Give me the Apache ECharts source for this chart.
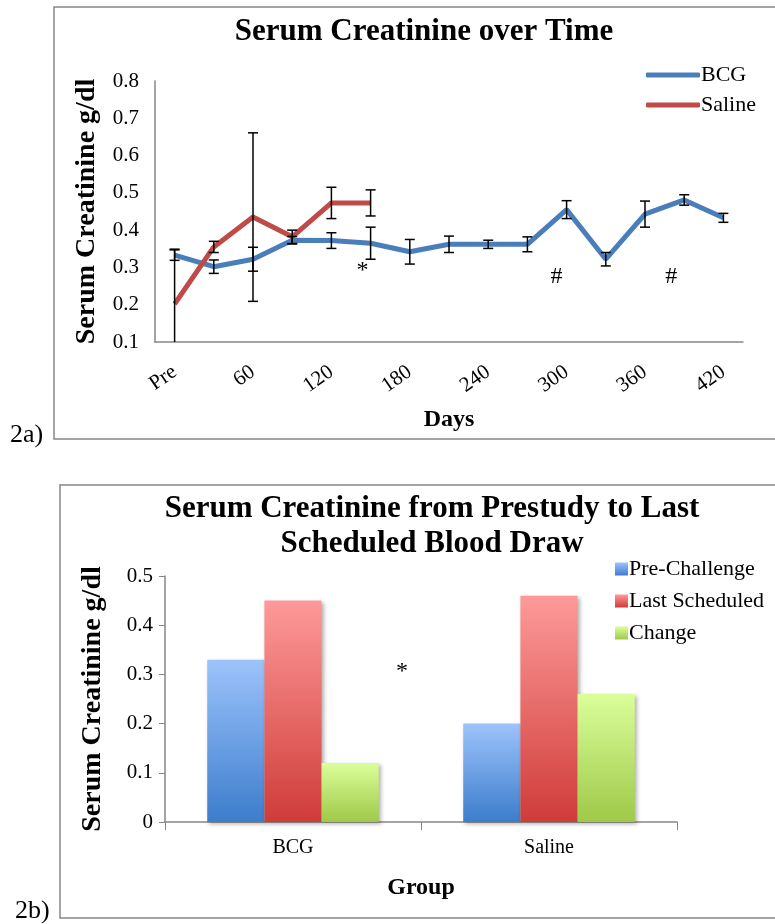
<!DOCTYPE html>
<html>
<head>
<meta charset="utf-8">
<title>Serum Creatinine</title>
<script src="https://cdn.jsdelivr.net/npm/echarts@6/dist/echarts.min.js"></script>
<style>
  html, body { margin: 0; padding: 0; background: #fff; }
  #main { width: 775px; height: 924px; }
</style>
</head>
<body>
<div id="main"></div>
<script>
  // 2a) line chart data (days after challenge)
  var days = ['Pre', '30', '60', '90', '120', '150', '180', '210', '240', '270', '300', '330', '360', '390', '420'];
  var bcgMean = [0.333, 0.302, 0.322, 0.373, 0.372, 0.365, 0.342, 0.362, 0.362, 0.362, 0.455, 0.322, 0.443, 0.481, 0.433];
  var bcgErr = [0.014, 0.018, 0.032, 0.010, 0.021, 0.043, 0.033, 0.022, 0.011, 0.020, 0.024, 0.018, 0.035, 0.014, 0.012];
  var salineMean = [0.202, 0.355, 0.435, 0.382, 0.473, 0.473];
  var salineErr = [0.147, 0.015, 0.226, 0.018, 0.042, 0.035];

  // 2b) bar chart data
  var groups = ['BCG', 'Saline'];
  var preChallenge = [0.33, 0.20];
  var lastScheduled = [0.45, 0.46];
  var change = [0.12, 0.26];

  var serif = 'Liberation Serif';
  var axisGrey = '#868686';

  function errData(mean, err) {
    var out = [];
    for (var i = 0; i < mean.length; i++) {
      out.push([i, mean[i] - err[i], mean[i] + err[i]]);
    }
    return out;
  }

  // draws a vertical error bar with caps
  function errorBar(params, api) {
    var i = api.value(0);
    var hi = api.coord([i, api.value(2)]);
    var lo = api.coord([i, api.value(1)]);
    var bottom = params.coordSys.y + params.coordSys.height;
    var loY = Math.min(lo[1], bottom);
    var cap = 5;
    var st = { stroke: '#000', lineWidth: 1.5 };
    var kids = [
      { type: 'line', shape: { x1: hi[0], y1: hi[1], x2: hi[0], y2: loY }, style: st },
      { type: 'line', shape: { x1: hi[0] - cap, y1: hi[1], x2: hi[0] + cap, y2: hi[1] }, style: st }
    ];
    if (lo[1] <= bottom) {
      kids.push({ type: 'line', shape: { x1: lo[0] - cap, y1: lo[1], x2: lo[0] + cap, y2: lo[1] }, style: st });
    }
    return { type: 'group', children: kids };
  }

  function grad(top, bottom) {
    return new echarts.graphic.LinearGradient(0, 0, 0, 1, [
      { offset: 0, color: top },
      { offset: 1, color: bottom }
    ]);
  }

  var barShadow = { shadowBlur: 4, shadowColor: 'rgba(0,0,0,0.3)', shadowOffsetX: 2, shadowOffsetY: 2 };

  var myChart = echarts.init(document.getElementById('main'));

  myChart.setOption({
    animation: false,
    textStyle: { fontFamily: serif, color: '#000' },
    title: [
      {
        text: 'Serum Creatinine over Time',
        left: 419, top: 11, textAlign: 'center',
        textStyle: { fontFamily: serif, fontWeight: 'bold', fontSize: 31, color: '#000' }
      },
      {
        text: 'Serum Creatinine from Prestudy to Last\nScheduled Blood Draw',
        left: 427, top: 486, textAlign: 'center',
        textStyle: { fontFamily: serif, fontWeight: 'bold', fontSize: 31, lineHeight: 35, color: '#000' }
      }
    ],
    legend: [
      {
        data: ['BCG', 'Saline'],
        orient: 'vertical',
        left: 641, top: 59,
        icon: 'roundRect',
        itemWidth: 54, itemHeight: 5,
        itemGap: 8,
        textStyle: { fontFamily: serif, fontSize: 22, color: '#000', padding: [0, 0, 0, -4] }
      },
      {
        data: ['Pre-Challenge', 'Last Scheduled', 'Change'],
        orient: 'vertical',
        left: 610, top: 553,
        icon: 'rect',
        itemWidth: 13, itemHeight: 13,
        itemGap: 10,
        textStyle: { fontFamily: serif, fontSize: 22, color: '#000', padding: [0, 0, 0, -4] }
      }
    ],
    grid: [
      { left: 155, top: 81, width: 588, height: 261 },
      { left: 165, top: 576, width: 512, height: 246 }
    ],
    xAxis: [
      {
        gridIndex: 0,
        type: 'category',
        data: days,
        name: 'Days',
        nameLocation: 'middle',
        nameGap: 66,
        nameTextStyle: { fontFamily: serif, fontWeight: 'bold', fontSize: 24, color: '#000' },
        axisLine: { lineStyle: { color: axisGrey, width: 1.5 } },
        axisTick: { show: false },
        axisLabel: { interval: 1, rotate: 35, margin: 28, fontFamily: serif, fontSize: 21, color: '#000' }
      },
      {
        gridIndex: 1,
        type: 'category',
        data: groups,
        name: 'Group',
        nameLocation: 'middle',
        nameGap: 54,
        nameTextStyle: { fontFamily: serif, fontWeight: 'bold', fontSize: 24, color: '#000' },
        axisLine: { lineStyle: { color: axisGrey, width: 1.5 } },
        axisTick: { show: true, length: 8, lineStyle: { color: axisGrey } },
        axisLabel: { margin: 16, fontFamily: serif, fontSize: 20, color: '#000' }
      }
    ],
    yAxis: [
      {
        gridIndex: 0,
        type: 'value',
        min: 0.1, max: 0.8, interval: 0.1,
        name: 'Serum Creatinine g/dl',
        nameLocation: 'middle',
        nameGap: 54,
        nameTextStyle: { fontFamily: serif, fontWeight: 'bold', fontSize: 28, color: '#000' },
        axisLine: { show: true, lineStyle: { color: axisGrey, width: 1.5 } },
        axisTick: { show: false },
        splitLine: { show: false },
        axisLabel: { margin: 16, fontFamily: serif, fontSize: 21, color: '#000', formatter: function (v) { return v.toFixed(1); } }
      },
      {
        gridIndex: 1,
        type: 'value',
        min: 0, max: 0.5, interval: 0.1,
        name: 'Serum Creatinine g/dl',
        nameLocation: 'middle',
        nameGap: 58,
        nameTextStyle: { fontFamily: serif, fontWeight: 'bold', fontSize: 28, color: '#000' },
        axisLine: { show: true, lineStyle: { color: axisGrey, width: 1.5 } },
        axisTick: { show: true, length: 6, lineStyle: { color: axisGrey } },
        splitLine: { show: false },
        axisLabel: { margin: 12, fontFamily: serif, fontSize: 21, color: '#000', formatter: function (v) { return v === 0 ? '0' : v.toFixed(1); } }
      }
    ],
    series: [
      {
        name: 'BCG',
        type: 'line',
        xAxisIndex: 0, yAxisIndex: 0,
        data: bcgMean,
        symbol: 'none',
        color: '#4a7ebb',
        lineStyle: { color: '#4a7ebb', width: 5 },
        markPoint: {
          symbol: 'circle', symbolSize: 0,
          label: { show: true, color: '#000', fontFamily: serif, fontSize: 24, formatter: function (p) { return p.name; } },
          data: [
            { name: '*', coord: ['150', 0.29], label: { offset: [-8, 0] } },
            { name: '#', coord: ['300', 0.275], label: { offset: [-10, 0] } },
            { name: '#', coord: ['390', 0.275], label: { offset: [-13, 0] } }
          ]
        }
      },
      {
        name: 'Saline',
        type: 'line',
        xAxisIndex: 0, yAxisIndex: 0,
        data: salineMean,
        symbol: 'none',
        color: '#be4b48',
        lineStyle: { color: '#be4b48', width: 5 }
      },
      {
        name: 'BCG err',
        type: 'custom',
        xAxisIndex: 0, yAxisIndex: 0,
        renderItem: errorBar,
        encode: { x: 0, y: [1, 2] },
        data: errData(bcgMean, bcgErr),
        z: 5
      },
      {
        name: 'Saline err',
        type: 'custom',
        xAxisIndex: 0, yAxisIndex: 0,
        renderItem: errorBar,
        encode: { x: 0, y: [1, 2] },
        data: errData(salineMean, salineErr),
        z: 5
      },
      {
        name: 'Pre-Challenge',
        type: 'bar',
        xAxisIndex: 1, yAxisIndex: 1,
        data: preChallenge,
        barGap: '0%',
        barCategoryGap: '33%',
        color: '#6a9de6',
        itemStyle: Object.assign({ color: grad('#9dc3fb', '#3c7dcc') }, barShadow)
      },
      {
        name: 'Last Scheduled',
        type: 'bar',
        xAxisIndex: 1, yAxisIndex: 1,
        data: lastScheduled,
        barGap: '0%',
        barCategoryGap: '33%',
        color: '#e06a68',
        itemStyle: Object.assign({ color: grad('#fd9a99', '#cf3c39') }, barShadow)
      },
      {
        name: 'Change',
        type: 'bar',
        xAxisIndex: 1, yAxisIndex: 1,
        data: change,
        barGap: '0%',
        barCategoryGap: '33%',
        color: '#bde372',
        itemStyle: Object.assign({ color: grad('#dbfe9a', '#9ec948') }, barShadow)
      }
    ],
    graphic: [
      // frames around each panel
      { type: 'rect', shape: { x: 54, y: 7, width: 760, height: 432 }, style: { fill: 'none', stroke: axisGrey, lineWidth: 1.5 }, z: -1 },
      { type: 'rect', shape: { x: 60, y: 485, width: 760, height: 433 }, style: { fill: 'none', stroke: axisGrey, lineWidth: 1.5 }, z: -1 },
      { type: 'text', left: 10, top: 422, style: { text: '2a)', font: '26px "Liberation Serif"', fill: '#000' } },
      { type: 'text', left: 15, top: 898, style: { text: '2b)', font: '26px "Liberation Serif"', fill: '#000' } },
      { type: 'text', left: 396, top: 660, style: { text: '*', font: '24px "Liberation Serif"', fill: '#000' } }
    ]
  });
</script>
</body>
</html>
